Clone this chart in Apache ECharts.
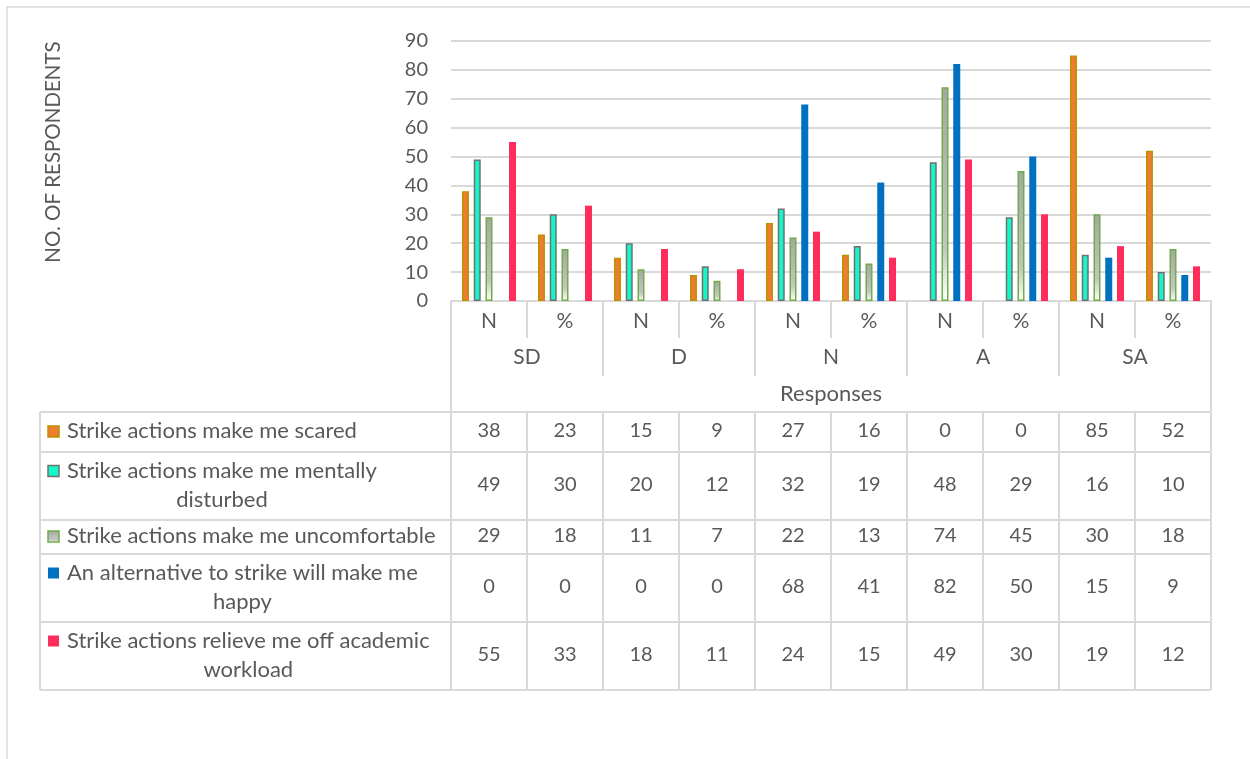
<!DOCTYPE html>
<html>
<head>
<meta charset="utf-8">
<script src="https://cdn.jsdelivr.net/npm/echarts@6/dist/echarts.min.js"></script>
<style>
  html, body { margin: 0; padding: 0; background: #ffffff; }
  #chart { width: 1250px; height: 759px; }
</style>
</head>
<body>
<div id="chart"></div>
<script>
// Response categories: N = count, % = share, grouped by agreement level
const categories = ['N', '%', 'N', '%', 'N', '%', 'N', '%', 'N', '%'];
const groups = ['SD', 'D', 'N', 'A', 'SA'];
const axisTitle = 'Responses';
const yTitle = 'NO. OF RESPONDENTS';

const seriesNames = [
  'Strike actions make me scared',
  'Strike actions make me mentally disturbed',
  'Strike actions make me uncomfortable',
  'An alternative to strike will make me happy',
  'Strike actions relieve me off academic workload'
];
// Legend text as it wraps inside the table's first column
const seriesLines = [
  ['Strike actions make me scared'],
  ['Strike actions make me mentally', 'disturbed'],
  ['Strike actions make me uncomfortable'],
  ['An alternative to strike will make me', 'happy'],
  ['Strike actions relieve me off academic', 'workload']
];

const scared        = [38, 23, 15, 9, 27, 16, 0, 0, 85, 52];
const disturbed     = [49, 30, 20, 12, 32, 19, 48, 29, 16, 10];
const uncomfortable = [29, 18, 11, 7, 22, 13, 74, 45, 30, 18];
const happy         = [0, 0, 0, 0, 68, 41, 82, 50, 15, 9];
const workload      = [55, 33, 18, 11, 24, 15, 49, 30, 19, 12];
const seriesData = [scared, disturbed, uncomfortable, happy, workload];

const yMin = 0, yMax = 90, yStep = 10;

const FONT = 'Lato, "Open Sans", sans-serif';
const TEXT = '#595959';
const LINE = '#D9D9D9';
const NUM_SIZE = 20;   // digits
const WORD_SIZE = 22;  // words in the table and titles

// Bar styles per series
const styles = [
  { color: '#ED7D31', borderColor: '#BF9000', borderWidth: 1.5 },
  { color: '#14F7C9', borderColor: '#707070', borderWidth: 1.5 },
  { color: { type: 'linear', x: 0, y: 0, x2: 0, y2: 1,
             colorStops: [{ offset: 0, color: '#A6A6A6' }, { offset: 0.75, color: '#C4C4C4' }, { offset: 1, color: '#FFFFFF' }] },
    borderColor: '#70AD47', borderWidth: 1.5 },
  { color: '#0070C0', borderColor: '#0070C0', borderWidth: 0 },
  { color: '#FF2D5C', borderColor: '#FF2D5C', borderWidth: 0 }
];

// Layout of the plot and the data table beneath it
const plot = { left: 451, right: 1211, top: 41, bottom: 301 };
const tableLeft = 40;
const rowEdges = [412, 452, 520, 554, 622, 690];
const lineGap = 29;

const chart = echarts.init(document.getElementById('chart'), null, { renderer: 'canvas' });

const option = {
  animation: false,
  backgroundColor: '#ffffff',
  textStyle: { fontFamily: FONT },
  grid: { left: plot.left, right: 1250 - plot.right, top: plot.top, bottom: 759 - plot.bottom },
  xAxis: [
    {
      type: 'category',
      data: categories,
      axisLine: { show: true, lineStyle: { color: LINE, width: 2 } },
      axisTick: { show: true, length: 37, lineStyle: { color: LINE, width: 2 } },
      axisLabel: { margin: 10, fontSize: 21, color: TEXT, fontFamily: FONT },
      splitLine: { show: false }
    },
    {
      type: 'category',
      data: groups,
      position: 'bottom',
      axisLine: { show: false },
      axisTick: { show: true, length: 75, lineStyle: { color: LINE, width: 2 } },
      axisLabel: { margin: 46, fontSize: 21, color: TEXT, fontFamily: FONT },
      splitLine: { show: false }
    }
  ],
  yAxis: {
    type: 'value',
    min: yMin, max: yMax, interval: yStep,
    axisLine: { show: false },
    axisTick: { show: false },
    axisLabel: { margin: 23, fontSize: NUM_SIZE, color: TEXT, fontFamily: FONT },
    splitLine: { lineStyle: { color: LINE, width: 2 } }
  },
  series: seriesNames.map((name, i) => ({
    name: name,
    type: 'bar',
    xAxisIndex: 0,
    // zero-height bars carry no outline
    data: seriesData[i].map(v => v === 0 ? { value: v, itemStyle: { borderWidth: 0 } } : v),
    barWidth: 7,
    barGap: '68%',
    itemStyle: styles[i]
  }))
};
chart.setOption(option);

// Table, borders and titles drawn around the axes
function buildExtras() {
  const els = [];
  const centers = categories.map((c, i) => chart.convertToPixel({ xAxisIndex: 0 }, i));
  const half = (centers[1] - centers[0]) / 2;
  const line = (x1, y1, x2, y2) => ({
    type: 'line', silent: true,
    shape: { x1, y1, x2, y2 },
    style: { stroke: LINE, lineWidth: 2 }
  });

  // Outer chart frame
  els.push({ type: 'rect', silent: true, shape: { x: 7, y: 7, width: 1300, height: 800 },
             style: { fill: null, stroke: LINE, lineWidth: 1.5 } });

  // Y axis title
  els.push({
    type: 'text', silent: true, x: 53, y: 152, rotation: Math.PI / 2,
    style: { text: yTitle, fontSize: 20.5, fontFamily: FONT, fill: TEXT, align: 'center', verticalAlign: 'middle' }
  });

  // Axis title under the group labels
  els.push({
    type: 'text', silent: true, x: (plot.left + plot.right) / 2, y: 394,
    style: { text: axisTitle, fontSize: WORD_SIZE, fontFamily: FONT, fill: TEXT, align: 'center', verticalAlign: 'middle' }
  });

  // Outer verticals of the category box and table
  els.push(line(plot.left, plot.bottom, plot.left, rowEdges[rowEdges.length - 1]));
  els.push(line(plot.right, plot.bottom, plot.right, rowEdges[rowEdges.length - 1]));
  els.push(line(tableLeft, rowEdges[0], tableLeft, rowEdges[rowEdges.length - 1]));
  centers.forEach((cx, i) => {
    if (i > 0) els.push(line(cx - half, rowEdges[0], cx - half, rowEdges[rowEdges.length - 1]));
  });
  rowEdges.forEach(y => els.push(line(tableLeft, y, plot.right, y)));

  // Legend keys, series names and values
  const ctx = document.createElement('canvas').getContext('2d');
  ctx.font = WORD_SIZE + 'px ' + FONT;
  const textX = 67;
  seriesNames.forEach((name, r) => {
    const top = rowEdges[r], bottom = rowEdges[r + 1];
    const mid = (top + bottom) / 2;
    const lines = seriesLines[r];
    const firstY = mid - (lines.length - 1) * lineGap / 2 - 1;
    const st = styles[r];
    els.push({
      type: 'rect', silent: true,
      shape: { x: 48, y: firstY - 5, width: 11, height: 11 },
      style: { fill: st.color, stroke: st.borderWidth ? st.borderColor : null, lineWidth: st.borderWidth ? 1.5 : 0 }
    });
    const w0 = ctx.measureText(lines[0]).width;
    lines.forEach((ln, k) => {
      const y = firstY + k * lineGap;
      if (k === 0) {
        els.push({ type: 'text', silent: true, x: textX, y: y,
          style: { text: ln, fontSize: WORD_SIZE, fontFamily: FONT, fill: TEXT, align: 'left', verticalAlign: 'middle' } });
      } else {
        els.push({ type: 'text', silent: true, x: textX + w0 / 2, y: y,
          style: { text: ln, fontSize: WORD_SIZE, fontFamily: FONT, fill: TEXT, align: 'center', verticalAlign: 'middle' } });
      }
    });
    seriesData[r].forEach((v, i) => {
      els.push({ type: 'text', silent: true, x: centers[i], y: mid - 1,
        style: { text: String(v), fontSize: NUM_SIZE, fontFamily: FONT, fill: TEXT, align: 'center', verticalAlign: 'middle' } });
    });
  });
  return els;
}

chart.setOption({ graphic: { elements: buildExtras() } });
</script>
</body>
</html>
